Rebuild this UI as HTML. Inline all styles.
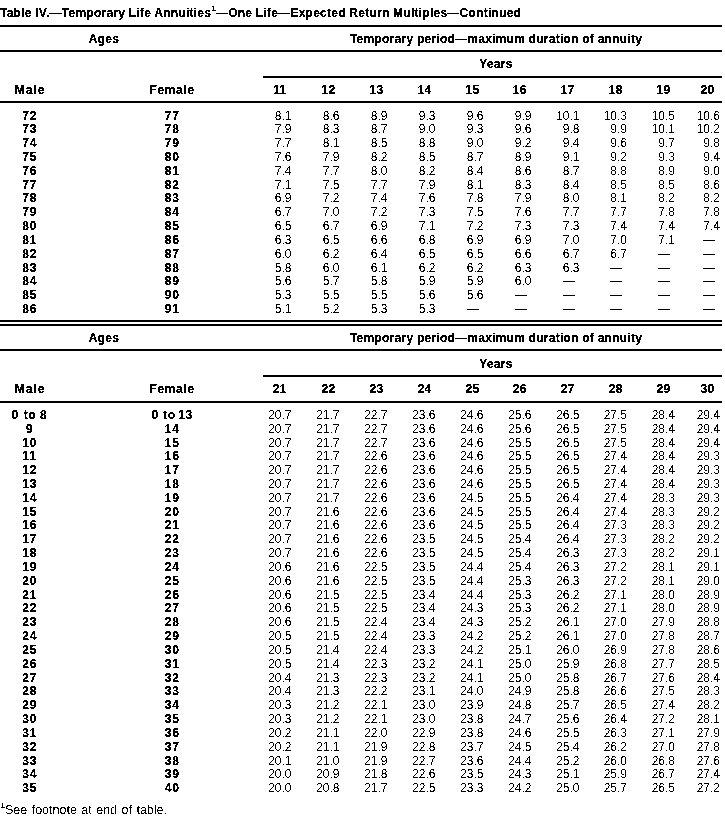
<!DOCTYPE html>
<html><head><meta charset="utf-8"><title>Table IV</title><style>
html,body{margin:0;padding:0;background:#fff;}
body{width:725px;height:822px;position:relative;overflow:hidden;font-family:"Liberation Sans",sans-serif;color:#000;}
div{position:absolute;white-space:nowrap;}
.ln{background:#000;}
.ttl{font-weight:bold;font-size:12px;line-height:12px;letter-spacing:0.25px}
.hd{font-weight:bold;font-size:12px;line-height:12px;letter-spacing:0.25px}
.ag{font-weight:bold;font-size:12px;line-height:12px;letter-spacing:0.75px}
.nm{font-size:12px;line-height:12px;letter-spacing:0px}
.fn{font-size:12.5px;line-height:12.5px;letter-spacing:0px;word-spacing:1.0px}
.c{width:400px;text-align:center}
.male{letter-spacing:1.0px}
.female{letter-spacing:0.65px}
.r{text-align:right}
.dash{width:12px;height:1px;background:#000}
sup{font-size:8px;vertical-align:6px;line-height:0}
.fn sup{font-size:8px;vertical-align:6px;font-weight:bold}
</style></head>
<body>
<svg width="0" height="0" style="position:absolute"><defs>
<filter id="thb" x="0" y="0" width="100%" height="100%"><feComponentTransfer><feFuncA type="discrete" tableValues="0 1 1"/></feComponentTransfer></filter>
<filter id="thr" x="0" y="0" width="100%" height="100%"><feComponentTransfer><feFuncA type="discrete" tableValues="0 1"/></feComponentTransfer></filter>
</defs></svg>
<div class="ln" style="left:0px;top:25px;width:722px;height:2px"></div>
<div class="ln" style="left:0px;top:50px;width:722px;height:2px"></div>
<div class="ln" style="left:263px;top:76px;width:459px;height:2px"></div>
<div class="ln" style="left:0px;top:101px;width:722px;height:2px"></div>
<div class="dash" style="left:703.00px;top:240.00px"></div>
<div class="dash" style="left:658.00px;top:254.00px"></div>
<div class="dash" style="left:703.00px;top:254.00px"></div>
<div class="dash" style="left:610.00px;top:268.00px"></div>
<div class="dash" style="left:658.00px;top:268.00px"></div>
<div class="dash" style="left:703.00px;top:268.00px"></div>
<div class="dash" style="left:562.50px;top:281.00px"></div>
<div class="dash" style="left:610.00px;top:281.00px"></div>
<div class="dash" style="left:658.00px;top:281.00px"></div>
<div class="dash" style="left:703.00px;top:281.00px"></div>
<div class="dash" style="left:514.50px;top:295.00px"></div>
<div class="dash" style="left:562.50px;top:295.00px"></div>
<div class="dash" style="left:610.00px;top:295.00px"></div>
<div class="dash" style="left:658.00px;top:295.00px"></div>
<div class="dash" style="left:703.00px;top:295.00px"></div>
<div class="dash" style="left:466.50px;top:309.00px"></div>
<div class="dash" style="left:514.50px;top:309.00px"></div>
<div class="dash" style="left:562.50px;top:309.00px"></div>
<div class="dash" style="left:610.00px;top:309.00px"></div>
<div class="dash" style="left:658.00px;top:309.00px"></div>
<div class="dash" style="left:703.00px;top:309.00px"></div>
<div class="ln" style="left:0px;top:320px;width:722px;height:2px"></div>
<div class="ln" style="left:0px;top:324px;width:722px;height:2px"></div>
<div class="ln" style="left:0px;top:349px;width:722px;height:2px"></div>
<div class="ln" style="left:263px;top:375px;width:459px;height:2px"></div>
<div class="ln" style="left:0px;top:401px;width:722px;height:2px"></div>
<section style="position:absolute;left:0;top:0;width:725px;height:822px;filter:url(#thb);">
<div class="ttl" style="left:0.00px;top:7.00px">Table IV.—Temporary Life Annuities<sup>1</sup>—One Life—Expected Return Multiples—Continued</div>
<div class="hd c" style="left:-96.00px;top:33.00px">Ages</div>
<div class="hd c" style="left:296.00px;top:33.00px">Temporary period—maximum duration of annuity</div>
<div class="hd c" style="left:296.00px;top:58.00px">Years</div>
<div class="hd male c" style="left:-170.00px;top:84.00px">Male</div>
<div class="hd female c" style="left:-27.90px;top:84.00px">Female</div>
<div class="hd c" style="left:79.70px;top:84.00px">11</div>
<div class="hd c" style="left:128.50px;top:84.00px">12</div>
<div class="hd c" style="left:176.50px;top:84.00px">13</div>
<div class="hd c" style="left:224.60px;top:84.00px">14</div>
<div class="hd c" style="left:272.40px;top:84.00px">15</div>
<div class="hd c" style="left:319.80px;top:84.00px">16</div>
<div class="hd c" style="left:367.70px;top:84.00px">17</div>
<div class="hd c" style="left:415.70px;top:84.00px">18</div>
<div class="hd c" style="left:463.50px;top:84.00px">19</div>
<div class="hd c" style="left:507.40px;top:84.00px">20</div>
<div class="ag c" style="left:-170.30px;top:110.00px">72</div>
<div class="ag c" style="left:-27.80px;top:110.00px">77</div>
<div class="ag c" style="left:-170.30px;top:123.00px">73</div>
<div class="ag c" style="left:-27.80px;top:123.00px">78</div>
<div class="ag c" style="left:-170.30px;top:137.00px">74</div>
<div class="ag c" style="left:-27.80px;top:137.00px">79</div>
<div class="ag c" style="left:-170.30px;top:151.00px">75</div>
<div class="ag c" style="left:-27.80px;top:151.00px">80</div>
<div class="ag c" style="left:-170.30px;top:165.00px">76</div>
<div class="ag c" style="left:-27.80px;top:165.00px">81</div>
<div class="ag c" style="left:-170.30px;top:179.00px">77</div>
<div class="ag c" style="left:-27.80px;top:179.00px">82</div>
<div class="ag c" style="left:-170.30px;top:192.00px">78</div>
<div class="ag c" style="left:-27.80px;top:192.00px">83</div>
<div class="ag c" style="left:-170.30px;top:206.00px">79</div>
<div class="ag c" style="left:-27.80px;top:206.00px">84</div>
<div class="ag c" style="left:-170.30px;top:220.00px">80</div>
<div class="ag c" style="left:-27.80px;top:220.00px">85</div>
<div class="ag c" style="left:-170.30px;top:234.00px">81</div>
<div class="ag c" style="left:-27.80px;top:234.00px">86</div>
<div class="ag c" style="left:-170.30px;top:248.00px">82</div>
<div class="ag c" style="left:-27.80px;top:248.00px">87</div>
<div class="ag c" style="left:-170.30px;top:262.00px">83</div>
<div class="ag c" style="left:-27.80px;top:262.00px">88</div>
<div class="ag c" style="left:-170.30px;top:275.00px">84</div>
<div class="ag c" style="left:-27.80px;top:275.00px">89</div>
<div class="ag c" style="left:-170.30px;top:289.00px">85</div>
<div class="ag c" style="left:-27.80px;top:289.00px">90</div>
<div class="ag c" style="left:-170.30px;top:303.00px">86</div>
<div class="ag c" style="left:-27.80px;top:303.00px">91</div>
<div class="hd c" style="left:-96.00px;top:332.00px">Ages</div>
<div class="hd c" style="left:296.00px;top:332.00px">Temporary period—maximum duration of annuity</div>
<div class="hd c" style="left:296.00px;top:358.00px">Years</div>
<div class="hd male c" style="left:-170.00px;top:383.00px">Male</div>
<div class="hd female c" style="left:-27.90px;top:383.00px">Female</div>
<div class="hd c" style="left:79.70px;top:383.00px">21</div>
<div class="hd c" style="left:128.50px;top:383.00px">22</div>
<div class="hd c" style="left:176.50px;top:383.00px">23</div>
<div class="hd c" style="left:224.60px;top:383.00px">24</div>
<div class="hd c" style="left:272.40px;top:383.00px">25</div>
<div class="hd c" style="left:319.80px;top:383.00px">26</div>
<div class="hd c" style="left:367.70px;top:383.00px">27</div>
<div class="hd c" style="left:415.70px;top:383.00px">28</div>
<div class="hd c" style="left:463.50px;top:383.00px">29</div>
<div class="hd c" style="left:507.40px;top:383.00px">30</div>
<div class="ag" style="left:11.50px;top:409.00px">0</div>
<div class="ag" style="left:23.80px;top:409.00px">to</div>
<div class="ag" style="left:40.00px;top:409.00px">8</div>
<div class="ag" style="left:151.50px;top:409.00px">0</div>
<div class="ag" style="left:163.00px;top:409.00px">to</div>
<div class="ag" style="left:178.00px;top:409.00px">13</div>
<div class="ag c" style="left:-170.30px;top:423.00px">9</div>
<div class="ag c" style="left:-27.80px;top:423.00px">14</div>
<div class="ag c" style="left:-170.30px;top:437.00px">10</div>
<div class="ag c" style="left:-27.80px;top:437.00px">15</div>
<div class="ag c" style="left:-170.30px;top:450.00px">11</div>
<div class="ag c" style="left:-27.80px;top:450.00px">16</div>
<div class="ag c" style="left:-170.30px;top:464.00px">12</div>
<div class="ag c" style="left:-27.80px;top:464.00px">17</div>
<div class="ag c" style="left:-170.30px;top:478.00px">13</div>
<div class="ag c" style="left:-27.80px;top:478.00px">18</div>
<div class="ag c" style="left:-170.30px;top:492.00px">14</div>
<div class="ag c" style="left:-27.80px;top:492.00px">19</div>
<div class="ag c" style="left:-170.30px;top:506.00px">15</div>
<div class="ag c" style="left:-27.80px;top:506.00px">20</div>
<div class="ag c" style="left:-170.30px;top:519.00px">16</div>
<div class="ag c" style="left:-27.80px;top:519.00px">21</div>
<div class="ag c" style="left:-170.30px;top:533.00px">17</div>
<div class="ag c" style="left:-27.80px;top:533.00px">22</div>
<div class="ag c" style="left:-170.30px;top:547.00px">18</div>
<div class="ag c" style="left:-27.80px;top:547.00px">23</div>
<div class="ag c" style="left:-170.30px;top:561.00px">19</div>
<div class="ag c" style="left:-27.80px;top:561.00px">24</div>
<div class="ag c" style="left:-170.30px;top:575.00px">20</div>
<div class="ag c" style="left:-27.80px;top:575.00px">25</div>
<div class="ag c" style="left:-170.30px;top:589.00px">21</div>
<div class="ag c" style="left:-27.80px;top:589.00px">26</div>
<div class="ag c" style="left:-170.30px;top:602.00px">22</div>
<div class="ag c" style="left:-27.80px;top:602.00px">27</div>
<div class="ag c" style="left:-170.30px;top:616.00px">23</div>
<div class="ag c" style="left:-27.80px;top:616.00px">28</div>
<div class="ag c" style="left:-170.30px;top:630.00px">24</div>
<div class="ag c" style="left:-27.80px;top:630.00px">29</div>
<div class="ag c" style="left:-170.30px;top:644.00px">25</div>
<div class="ag c" style="left:-27.80px;top:644.00px">30</div>
<div class="ag c" style="left:-170.30px;top:658.00px">26</div>
<div class="ag c" style="left:-27.80px;top:658.00px">31</div>
<div class="ag c" style="left:-170.30px;top:672.00px">27</div>
<div class="ag c" style="left:-27.80px;top:672.00px">32</div>
<div class="ag c" style="left:-170.30px;top:685.00px">28</div>
<div class="ag c" style="left:-27.80px;top:685.00px">33</div>
<div class="ag c" style="left:-170.30px;top:699.00px">29</div>
<div class="ag c" style="left:-27.80px;top:699.00px">34</div>
<div class="ag c" style="left:-170.30px;top:713.00px">30</div>
<div class="ag c" style="left:-27.80px;top:713.00px">35</div>
<div class="ag c" style="left:-170.30px;top:727.00px">31</div>
<div class="ag c" style="left:-27.80px;top:727.00px">36</div>
<div class="ag c" style="left:-170.30px;top:741.00px">32</div>
<div class="ag c" style="left:-27.80px;top:741.00px">37</div>
<div class="ag c" style="left:-170.30px;top:755.00px">33</div>
<div class="ag c" style="left:-27.80px;top:755.00px">38</div>
<div class="ag c" style="left:-170.30px;top:768.00px">34</div>
<div class="ag c" style="left:-27.80px;top:768.00px">39</div>
<div class="ag c" style="left:-170.30px;top:782.00px">35</div>
<div class="ag c" style="left:-27.80px;top:782.00px">40</div>
</section>
<section style="position:absolute;left:0;top:0;width:725px;height:822px;filter:url(#thr);">
<div class="nm r" style="right:433.50px;top:110.00px">8.1</div>
<div class="nm r" style="right:385.50px;top:110.00px">8.6</div>
<div class="nm r" style="right:337.50px;top:110.00px">8.9</div>
<div class="nm r" style="right:289.50px;top:110.00px">9.3</div>
<div class="nm r" style="right:241.50px;top:110.00px">9.6</div>
<div class="nm r" style="right:193.50px;top:110.00px">9.9</div>
<div class="nm r" style="right:145.50px;top:110.00px">10.1</div>
<div class="nm r" style="right:98.00px;top:110.00px">10.3</div>
<div class="nm r" style="right:50.00px;top:110.00px">10.5</div>
<div class="nm r" style="right:5.00px;top:110.00px">10.6</div>
<div class="nm r" style="right:433.50px;top:123.00px">7.9</div>
<div class="nm r" style="right:385.50px;top:123.00px">8.3</div>
<div class="nm r" style="right:337.50px;top:123.00px">8.7</div>
<div class="nm r" style="right:289.50px;top:123.00px">9.0</div>
<div class="nm r" style="right:241.50px;top:123.00px">9.3</div>
<div class="nm r" style="right:193.50px;top:123.00px">9.6</div>
<div class="nm r" style="right:145.50px;top:123.00px">9.8</div>
<div class="nm r" style="right:98.00px;top:123.00px">9.9</div>
<div class="nm r" style="right:50.00px;top:123.00px">10.1</div>
<div class="nm r" style="right:5.00px;top:123.00px">10.2</div>
<div class="nm r" style="right:433.50px;top:137.00px">7.7</div>
<div class="nm r" style="right:385.50px;top:137.00px">8.1</div>
<div class="nm r" style="right:337.50px;top:137.00px">8.5</div>
<div class="nm r" style="right:289.50px;top:137.00px">8.8</div>
<div class="nm r" style="right:241.50px;top:137.00px">9.0</div>
<div class="nm r" style="right:193.50px;top:137.00px">9.2</div>
<div class="nm r" style="right:145.50px;top:137.00px">9.4</div>
<div class="nm r" style="right:98.00px;top:137.00px">9.6</div>
<div class="nm r" style="right:50.00px;top:137.00px">9.7</div>
<div class="nm r" style="right:5.00px;top:137.00px">9.8</div>
<div class="nm r" style="right:433.50px;top:151.00px">7.6</div>
<div class="nm r" style="right:385.50px;top:151.00px">7.9</div>
<div class="nm r" style="right:337.50px;top:151.00px">8.2</div>
<div class="nm r" style="right:289.50px;top:151.00px">8.5</div>
<div class="nm r" style="right:241.50px;top:151.00px">8.7</div>
<div class="nm r" style="right:193.50px;top:151.00px">8.9</div>
<div class="nm r" style="right:145.50px;top:151.00px">9.1</div>
<div class="nm r" style="right:98.00px;top:151.00px">9.2</div>
<div class="nm r" style="right:50.00px;top:151.00px">9.3</div>
<div class="nm r" style="right:5.00px;top:151.00px">9.4</div>
<div class="nm r" style="right:433.50px;top:165.00px">7.4</div>
<div class="nm r" style="right:385.50px;top:165.00px">7.7</div>
<div class="nm r" style="right:337.50px;top:165.00px">8.0</div>
<div class="nm r" style="right:289.50px;top:165.00px">8.2</div>
<div class="nm r" style="right:241.50px;top:165.00px">8.4</div>
<div class="nm r" style="right:193.50px;top:165.00px">8.6</div>
<div class="nm r" style="right:145.50px;top:165.00px">8.7</div>
<div class="nm r" style="right:98.00px;top:165.00px">8.8</div>
<div class="nm r" style="right:50.00px;top:165.00px">8.9</div>
<div class="nm r" style="right:5.00px;top:165.00px">9.0</div>
<div class="nm r" style="right:433.50px;top:179.00px">7.1</div>
<div class="nm r" style="right:385.50px;top:179.00px">7.5</div>
<div class="nm r" style="right:337.50px;top:179.00px">7.7</div>
<div class="nm r" style="right:289.50px;top:179.00px">7.9</div>
<div class="nm r" style="right:241.50px;top:179.00px">8.1</div>
<div class="nm r" style="right:193.50px;top:179.00px">8.3</div>
<div class="nm r" style="right:145.50px;top:179.00px">8.4</div>
<div class="nm r" style="right:98.00px;top:179.00px">8.5</div>
<div class="nm r" style="right:50.00px;top:179.00px">8.5</div>
<div class="nm r" style="right:5.00px;top:179.00px">8.6</div>
<div class="nm r" style="right:433.50px;top:192.00px">6.9</div>
<div class="nm r" style="right:385.50px;top:192.00px">7.2</div>
<div class="nm r" style="right:337.50px;top:192.00px">7.4</div>
<div class="nm r" style="right:289.50px;top:192.00px">7.6</div>
<div class="nm r" style="right:241.50px;top:192.00px">7.8</div>
<div class="nm r" style="right:193.50px;top:192.00px">7.9</div>
<div class="nm r" style="right:145.50px;top:192.00px">8.0</div>
<div class="nm r" style="right:98.00px;top:192.00px">8.1</div>
<div class="nm r" style="right:50.00px;top:192.00px">8.2</div>
<div class="nm r" style="right:5.00px;top:192.00px">8.2</div>
<div class="nm r" style="right:433.50px;top:206.00px">6.7</div>
<div class="nm r" style="right:385.50px;top:206.00px">7.0</div>
<div class="nm r" style="right:337.50px;top:206.00px">7.2</div>
<div class="nm r" style="right:289.50px;top:206.00px">7.3</div>
<div class="nm r" style="right:241.50px;top:206.00px">7.5</div>
<div class="nm r" style="right:193.50px;top:206.00px">7.6</div>
<div class="nm r" style="right:145.50px;top:206.00px">7.7</div>
<div class="nm r" style="right:98.00px;top:206.00px">7.7</div>
<div class="nm r" style="right:50.00px;top:206.00px">7.8</div>
<div class="nm r" style="right:5.00px;top:206.00px">7.8</div>
<div class="nm r" style="right:433.50px;top:220.00px">6.5</div>
<div class="nm r" style="right:385.50px;top:220.00px">6.7</div>
<div class="nm r" style="right:337.50px;top:220.00px">6.9</div>
<div class="nm r" style="right:289.50px;top:220.00px">7.1</div>
<div class="nm r" style="right:241.50px;top:220.00px">7.2</div>
<div class="nm r" style="right:193.50px;top:220.00px">7.3</div>
<div class="nm r" style="right:145.50px;top:220.00px">7.3</div>
<div class="nm r" style="right:98.00px;top:220.00px">7.4</div>
<div class="nm r" style="right:50.00px;top:220.00px">7.4</div>
<div class="nm r" style="right:5.00px;top:220.00px">7.4</div>
<div class="nm r" style="right:433.50px;top:234.00px">6.3</div>
<div class="nm r" style="right:385.50px;top:234.00px">6.5</div>
<div class="nm r" style="right:337.50px;top:234.00px">6.6</div>
<div class="nm r" style="right:289.50px;top:234.00px">6.8</div>
<div class="nm r" style="right:241.50px;top:234.00px">6.9</div>
<div class="nm r" style="right:193.50px;top:234.00px">6.9</div>
<div class="nm r" style="right:145.50px;top:234.00px">7.0</div>
<div class="nm r" style="right:98.00px;top:234.00px">7.0</div>
<div class="nm r" style="right:50.00px;top:234.00px">7.1</div>
<div class="nm r" style="right:433.50px;top:248.00px">6.0</div>
<div class="nm r" style="right:385.50px;top:248.00px">6.2</div>
<div class="nm r" style="right:337.50px;top:248.00px">6.4</div>
<div class="nm r" style="right:289.50px;top:248.00px">6.5</div>
<div class="nm r" style="right:241.50px;top:248.00px">6.5</div>
<div class="nm r" style="right:193.50px;top:248.00px">6.6</div>
<div class="nm r" style="right:145.50px;top:248.00px">6.7</div>
<div class="nm r" style="right:98.00px;top:248.00px">6.7</div>
<div class="nm r" style="right:433.50px;top:262.00px">5.8</div>
<div class="nm r" style="right:385.50px;top:262.00px">6.0</div>
<div class="nm r" style="right:337.50px;top:262.00px">6.1</div>
<div class="nm r" style="right:289.50px;top:262.00px">6.2</div>
<div class="nm r" style="right:241.50px;top:262.00px">6.2</div>
<div class="nm r" style="right:193.50px;top:262.00px">6.3</div>
<div class="nm r" style="right:145.50px;top:262.00px">6.3</div>
<div class="nm r" style="right:433.50px;top:275.00px">5.6</div>
<div class="nm r" style="right:385.50px;top:275.00px">5.7</div>
<div class="nm r" style="right:337.50px;top:275.00px">5.8</div>
<div class="nm r" style="right:289.50px;top:275.00px">5.9</div>
<div class="nm r" style="right:241.50px;top:275.00px">5.9</div>
<div class="nm r" style="right:193.50px;top:275.00px">6.0</div>
<div class="nm r" style="right:433.50px;top:289.00px">5.3</div>
<div class="nm r" style="right:385.50px;top:289.00px">5.5</div>
<div class="nm r" style="right:337.50px;top:289.00px">5.5</div>
<div class="nm r" style="right:289.50px;top:289.00px">5.6</div>
<div class="nm r" style="right:241.50px;top:289.00px">5.6</div>
<div class="nm r" style="right:433.50px;top:303.00px">5.1</div>
<div class="nm r" style="right:385.50px;top:303.00px">5.2</div>
<div class="nm r" style="right:337.50px;top:303.00px">5.3</div>
<div class="nm r" style="right:289.50px;top:303.00px">5.3</div>
<div class="nm r" style="right:433.50px;top:409.00px">20.7</div>
<div class="nm r" style="right:385.50px;top:409.00px">21.7</div>
<div class="nm r" style="right:337.50px;top:409.00px">22.7</div>
<div class="nm r" style="right:289.50px;top:409.00px">23.6</div>
<div class="nm r" style="right:241.50px;top:409.00px">24.6</div>
<div class="nm r" style="right:193.50px;top:409.00px">25.6</div>
<div class="nm r" style="right:145.50px;top:409.00px">26.5</div>
<div class="nm r" style="right:98.00px;top:409.00px">27.5</div>
<div class="nm r" style="right:50.00px;top:409.00px">28.4</div>
<div class="nm r" style="right:5.00px;top:409.00px">29.4</div>
<div class="nm r" style="right:433.50px;top:423.00px">20.7</div>
<div class="nm r" style="right:385.50px;top:423.00px">21.7</div>
<div class="nm r" style="right:337.50px;top:423.00px">22.7</div>
<div class="nm r" style="right:289.50px;top:423.00px">23.6</div>
<div class="nm r" style="right:241.50px;top:423.00px">24.6</div>
<div class="nm r" style="right:193.50px;top:423.00px">25.6</div>
<div class="nm r" style="right:145.50px;top:423.00px">26.5</div>
<div class="nm r" style="right:98.00px;top:423.00px">27.5</div>
<div class="nm r" style="right:50.00px;top:423.00px">28.4</div>
<div class="nm r" style="right:5.00px;top:423.00px">29.4</div>
<div class="nm r" style="right:433.50px;top:437.00px">20.7</div>
<div class="nm r" style="right:385.50px;top:437.00px">21.7</div>
<div class="nm r" style="right:337.50px;top:437.00px">22.7</div>
<div class="nm r" style="right:289.50px;top:437.00px">23.6</div>
<div class="nm r" style="right:241.50px;top:437.00px">24.6</div>
<div class="nm r" style="right:193.50px;top:437.00px">25.5</div>
<div class="nm r" style="right:145.50px;top:437.00px">26.5</div>
<div class="nm r" style="right:98.00px;top:437.00px">27.5</div>
<div class="nm r" style="right:50.00px;top:437.00px">28.4</div>
<div class="nm r" style="right:5.00px;top:437.00px">29.4</div>
<div class="nm r" style="right:433.50px;top:450.00px">20.7</div>
<div class="nm r" style="right:385.50px;top:450.00px">21.7</div>
<div class="nm r" style="right:337.50px;top:450.00px">22.6</div>
<div class="nm r" style="right:289.50px;top:450.00px">23.6</div>
<div class="nm r" style="right:241.50px;top:450.00px">24.6</div>
<div class="nm r" style="right:193.50px;top:450.00px">25.5</div>
<div class="nm r" style="right:145.50px;top:450.00px">26.5</div>
<div class="nm r" style="right:98.00px;top:450.00px">27.4</div>
<div class="nm r" style="right:50.00px;top:450.00px">28.4</div>
<div class="nm r" style="right:5.00px;top:450.00px">29.3</div>
<div class="nm r" style="right:433.50px;top:464.00px">20.7</div>
<div class="nm r" style="right:385.50px;top:464.00px">21.7</div>
<div class="nm r" style="right:337.50px;top:464.00px">22.6</div>
<div class="nm r" style="right:289.50px;top:464.00px">23.6</div>
<div class="nm r" style="right:241.50px;top:464.00px">24.6</div>
<div class="nm r" style="right:193.50px;top:464.00px">25.5</div>
<div class="nm r" style="right:145.50px;top:464.00px">26.5</div>
<div class="nm r" style="right:98.00px;top:464.00px">27.4</div>
<div class="nm r" style="right:50.00px;top:464.00px">28.4</div>
<div class="nm r" style="right:5.00px;top:464.00px">29.3</div>
<div class="nm r" style="right:433.50px;top:478.00px">20.7</div>
<div class="nm r" style="right:385.50px;top:478.00px">21.7</div>
<div class="nm r" style="right:337.50px;top:478.00px">22.6</div>
<div class="nm r" style="right:289.50px;top:478.00px">23.6</div>
<div class="nm r" style="right:241.50px;top:478.00px">24.6</div>
<div class="nm r" style="right:193.50px;top:478.00px">25.5</div>
<div class="nm r" style="right:145.50px;top:478.00px">26.5</div>
<div class="nm r" style="right:98.00px;top:478.00px">27.4</div>
<div class="nm r" style="right:50.00px;top:478.00px">28.4</div>
<div class="nm r" style="right:5.00px;top:478.00px">29.3</div>
<div class="nm r" style="right:433.50px;top:492.00px">20.7</div>
<div class="nm r" style="right:385.50px;top:492.00px">21.7</div>
<div class="nm r" style="right:337.50px;top:492.00px">22.6</div>
<div class="nm r" style="right:289.50px;top:492.00px">23.6</div>
<div class="nm r" style="right:241.50px;top:492.00px">24.5</div>
<div class="nm r" style="right:193.50px;top:492.00px">25.5</div>
<div class="nm r" style="right:145.50px;top:492.00px">26.4</div>
<div class="nm r" style="right:98.00px;top:492.00px">27.4</div>
<div class="nm r" style="right:50.00px;top:492.00px">28.3</div>
<div class="nm r" style="right:5.00px;top:492.00px">29.3</div>
<div class="nm r" style="right:433.50px;top:506.00px">20.7</div>
<div class="nm r" style="right:385.50px;top:506.00px">21.6</div>
<div class="nm r" style="right:337.50px;top:506.00px">22.6</div>
<div class="nm r" style="right:289.50px;top:506.00px">23.6</div>
<div class="nm r" style="right:241.50px;top:506.00px">24.5</div>
<div class="nm r" style="right:193.50px;top:506.00px">25.5</div>
<div class="nm r" style="right:145.50px;top:506.00px">26.4</div>
<div class="nm r" style="right:98.00px;top:506.00px">27.4</div>
<div class="nm r" style="right:50.00px;top:506.00px">28.3</div>
<div class="nm r" style="right:5.00px;top:506.00px">29.2</div>
<div class="nm r" style="right:433.50px;top:519.00px">20.7</div>
<div class="nm r" style="right:385.50px;top:519.00px">21.6</div>
<div class="nm r" style="right:337.50px;top:519.00px">22.6</div>
<div class="nm r" style="right:289.50px;top:519.00px">23.6</div>
<div class="nm r" style="right:241.50px;top:519.00px">24.5</div>
<div class="nm r" style="right:193.50px;top:519.00px">25.5</div>
<div class="nm r" style="right:145.50px;top:519.00px">26.4</div>
<div class="nm r" style="right:98.00px;top:519.00px">27.3</div>
<div class="nm r" style="right:50.00px;top:519.00px">28.3</div>
<div class="nm r" style="right:5.00px;top:519.00px">29.2</div>
<div class="nm r" style="right:433.50px;top:533.00px">20.7</div>
<div class="nm r" style="right:385.50px;top:533.00px">21.6</div>
<div class="nm r" style="right:337.50px;top:533.00px">22.6</div>
<div class="nm r" style="right:289.50px;top:533.00px">23.5</div>
<div class="nm r" style="right:241.50px;top:533.00px">24.5</div>
<div class="nm r" style="right:193.50px;top:533.00px">25.4</div>
<div class="nm r" style="right:145.50px;top:533.00px">26.4</div>
<div class="nm r" style="right:98.00px;top:533.00px">27.3</div>
<div class="nm r" style="right:50.00px;top:533.00px">28.2</div>
<div class="nm r" style="right:5.00px;top:533.00px">29.2</div>
<div class="nm r" style="right:433.50px;top:547.00px">20.7</div>
<div class="nm r" style="right:385.50px;top:547.00px">21.6</div>
<div class="nm r" style="right:337.50px;top:547.00px">22.6</div>
<div class="nm r" style="right:289.50px;top:547.00px">23.5</div>
<div class="nm r" style="right:241.50px;top:547.00px">24.5</div>
<div class="nm r" style="right:193.50px;top:547.00px">25.4</div>
<div class="nm r" style="right:145.50px;top:547.00px">26.3</div>
<div class="nm r" style="right:98.00px;top:547.00px">27.3</div>
<div class="nm r" style="right:50.00px;top:547.00px">28.2</div>
<div class="nm r" style="right:5.00px;top:547.00px">29.1</div>
<div class="nm r" style="right:433.50px;top:561.00px">20.6</div>
<div class="nm r" style="right:385.50px;top:561.00px">21.6</div>
<div class="nm r" style="right:337.50px;top:561.00px">22.5</div>
<div class="nm r" style="right:289.50px;top:561.00px">23.5</div>
<div class="nm r" style="right:241.50px;top:561.00px">24.4</div>
<div class="nm r" style="right:193.50px;top:561.00px">25.4</div>
<div class="nm r" style="right:145.50px;top:561.00px">26.3</div>
<div class="nm r" style="right:98.00px;top:561.00px">27.2</div>
<div class="nm r" style="right:50.00px;top:561.00px">28.1</div>
<div class="nm r" style="right:5.00px;top:561.00px">29.1</div>
<div class="nm r" style="right:433.50px;top:575.00px">20.6</div>
<div class="nm r" style="right:385.50px;top:575.00px">21.6</div>
<div class="nm r" style="right:337.50px;top:575.00px">22.5</div>
<div class="nm r" style="right:289.50px;top:575.00px">23.5</div>
<div class="nm r" style="right:241.50px;top:575.00px">24.4</div>
<div class="nm r" style="right:193.50px;top:575.00px">25.3</div>
<div class="nm r" style="right:145.50px;top:575.00px">26.3</div>
<div class="nm r" style="right:98.00px;top:575.00px">27.2</div>
<div class="nm r" style="right:50.00px;top:575.00px">28.1</div>
<div class="nm r" style="right:5.00px;top:575.00px">29.0</div>
<div class="nm r" style="right:433.50px;top:589.00px">20.6</div>
<div class="nm r" style="right:385.50px;top:589.00px">21.5</div>
<div class="nm r" style="right:337.50px;top:589.00px">22.5</div>
<div class="nm r" style="right:289.50px;top:589.00px">23.4</div>
<div class="nm r" style="right:241.50px;top:589.00px">24.4</div>
<div class="nm r" style="right:193.50px;top:589.00px">25.3</div>
<div class="nm r" style="right:145.50px;top:589.00px">26.2</div>
<div class="nm r" style="right:98.00px;top:589.00px">27.1</div>
<div class="nm r" style="right:50.00px;top:589.00px">28.0</div>
<div class="nm r" style="right:5.00px;top:589.00px">28.9</div>
<div class="nm r" style="right:433.50px;top:602.00px">20.6</div>
<div class="nm r" style="right:385.50px;top:602.00px">21.5</div>
<div class="nm r" style="right:337.50px;top:602.00px">22.5</div>
<div class="nm r" style="right:289.50px;top:602.00px">23.4</div>
<div class="nm r" style="right:241.50px;top:602.00px">24.3</div>
<div class="nm r" style="right:193.50px;top:602.00px">25.3</div>
<div class="nm r" style="right:145.50px;top:602.00px">26.2</div>
<div class="nm r" style="right:98.00px;top:602.00px">27.1</div>
<div class="nm r" style="right:50.00px;top:602.00px">28.0</div>
<div class="nm r" style="right:5.00px;top:602.00px">28.9</div>
<div class="nm r" style="right:433.50px;top:616.00px">20.6</div>
<div class="nm r" style="right:385.50px;top:616.00px">21.5</div>
<div class="nm r" style="right:337.50px;top:616.00px">22.4</div>
<div class="nm r" style="right:289.50px;top:616.00px">23.4</div>
<div class="nm r" style="right:241.50px;top:616.00px">24.3</div>
<div class="nm r" style="right:193.50px;top:616.00px">25.2</div>
<div class="nm r" style="right:145.50px;top:616.00px">26.1</div>
<div class="nm r" style="right:98.00px;top:616.00px">27.0</div>
<div class="nm r" style="right:50.00px;top:616.00px">27.9</div>
<div class="nm r" style="right:5.00px;top:616.00px">28.8</div>
<div class="nm r" style="right:433.50px;top:630.00px">20.5</div>
<div class="nm r" style="right:385.50px;top:630.00px">21.5</div>
<div class="nm r" style="right:337.50px;top:630.00px">22.4</div>
<div class="nm r" style="right:289.50px;top:630.00px">23.3</div>
<div class="nm r" style="right:241.50px;top:630.00px">24.2</div>
<div class="nm r" style="right:193.50px;top:630.00px">25.2</div>
<div class="nm r" style="right:145.50px;top:630.00px">26.1</div>
<div class="nm r" style="right:98.00px;top:630.00px">27.0</div>
<div class="nm r" style="right:50.00px;top:630.00px">27.8</div>
<div class="nm r" style="right:5.00px;top:630.00px">28.7</div>
<div class="nm r" style="right:433.50px;top:644.00px">20.5</div>
<div class="nm r" style="right:385.50px;top:644.00px">21.4</div>
<div class="nm r" style="right:337.50px;top:644.00px">22.4</div>
<div class="nm r" style="right:289.50px;top:644.00px">23.3</div>
<div class="nm r" style="right:241.50px;top:644.00px">24.2</div>
<div class="nm r" style="right:193.50px;top:644.00px">25.1</div>
<div class="nm r" style="right:145.50px;top:644.00px">26.0</div>
<div class="nm r" style="right:98.00px;top:644.00px">26.9</div>
<div class="nm r" style="right:50.00px;top:644.00px">27.8</div>
<div class="nm r" style="right:5.00px;top:644.00px">28.6</div>
<div class="nm r" style="right:433.50px;top:658.00px">20.5</div>
<div class="nm r" style="right:385.50px;top:658.00px">21.4</div>
<div class="nm r" style="right:337.50px;top:658.00px">22.3</div>
<div class="nm r" style="right:289.50px;top:658.00px">23.2</div>
<div class="nm r" style="right:241.50px;top:658.00px">24.1</div>
<div class="nm r" style="right:193.50px;top:658.00px">25.0</div>
<div class="nm r" style="right:145.50px;top:658.00px">25.9</div>
<div class="nm r" style="right:98.00px;top:658.00px">26.8</div>
<div class="nm r" style="right:50.00px;top:658.00px">27.7</div>
<div class="nm r" style="right:5.00px;top:658.00px">28.5</div>
<div class="nm r" style="right:433.50px;top:672.00px">20.4</div>
<div class="nm r" style="right:385.50px;top:672.00px">21.3</div>
<div class="nm r" style="right:337.50px;top:672.00px">22.3</div>
<div class="nm r" style="right:289.50px;top:672.00px">23.2</div>
<div class="nm r" style="right:241.50px;top:672.00px">24.1</div>
<div class="nm r" style="right:193.50px;top:672.00px">25.0</div>
<div class="nm r" style="right:145.50px;top:672.00px">25.8</div>
<div class="nm r" style="right:98.00px;top:672.00px">26.7</div>
<div class="nm r" style="right:50.00px;top:672.00px">27.6</div>
<div class="nm r" style="right:5.00px;top:672.00px">28.4</div>
<div class="nm r" style="right:433.50px;top:685.00px">20.4</div>
<div class="nm r" style="right:385.50px;top:685.00px">21.3</div>
<div class="nm r" style="right:337.50px;top:685.00px">22.2</div>
<div class="nm r" style="right:289.50px;top:685.00px">23.1</div>
<div class="nm r" style="right:241.50px;top:685.00px">24.0</div>
<div class="nm r" style="right:193.50px;top:685.00px">24.9</div>
<div class="nm r" style="right:145.50px;top:685.00px">25.8</div>
<div class="nm r" style="right:98.00px;top:685.00px">26.6</div>
<div class="nm r" style="right:50.00px;top:685.00px">27.5</div>
<div class="nm r" style="right:5.00px;top:685.00px">28.3</div>
<div class="nm r" style="right:433.50px;top:699.00px">20.3</div>
<div class="nm r" style="right:385.50px;top:699.00px">21.2</div>
<div class="nm r" style="right:337.50px;top:699.00px">22.1</div>
<div class="nm r" style="right:289.50px;top:699.00px">23.0</div>
<div class="nm r" style="right:241.50px;top:699.00px">23.9</div>
<div class="nm r" style="right:193.50px;top:699.00px">24.8</div>
<div class="nm r" style="right:145.50px;top:699.00px">25.7</div>
<div class="nm r" style="right:98.00px;top:699.00px">26.5</div>
<div class="nm r" style="right:50.00px;top:699.00px">27.4</div>
<div class="nm r" style="right:5.00px;top:699.00px">28.2</div>
<div class="nm r" style="right:433.50px;top:713.00px">20.3</div>
<div class="nm r" style="right:385.50px;top:713.00px">21.2</div>
<div class="nm r" style="right:337.50px;top:713.00px">22.1</div>
<div class="nm r" style="right:289.50px;top:713.00px">23.0</div>
<div class="nm r" style="right:241.50px;top:713.00px">23.8</div>
<div class="nm r" style="right:193.50px;top:713.00px">24.7</div>
<div class="nm r" style="right:145.50px;top:713.00px">25.6</div>
<div class="nm r" style="right:98.00px;top:713.00px">26.4</div>
<div class="nm r" style="right:50.00px;top:713.00px">27.2</div>
<div class="nm r" style="right:5.00px;top:713.00px">28.1</div>
<div class="nm r" style="right:433.50px;top:727.00px">20.2</div>
<div class="nm r" style="right:385.50px;top:727.00px">21.1</div>
<div class="nm r" style="right:337.50px;top:727.00px">22.0</div>
<div class="nm r" style="right:289.50px;top:727.00px">22.9</div>
<div class="nm r" style="right:241.50px;top:727.00px">23.8</div>
<div class="nm r" style="right:193.50px;top:727.00px">24.6</div>
<div class="nm r" style="right:145.50px;top:727.00px">25.5</div>
<div class="nm r" style="right:98.00px;top:727.00px">26.3</div>
<div class="nm r" style="right:50.00px;top:727.00px">27.1</div>
<div class="nm r" style="right:5.00px;top:727.00px">27.9</div>
<div class="nm r" style="right:433.50px;top:741.00px">20.2</div>
<div class="nm r" style="right:385.50px;top:741.00px">21.1</div>
<div class="nm r" style="right:337.50px;top:741.00px">21.9</div>
<div class="nm r" style="right:289.50px;top:741.00px">22.8</div>
<div class="nm r" style="right:241.50px;top:741.00px">23.7</div>
<div class="nm r" style="right:193.50px;top:741.00px">24.5</div>
<div class="nm r" style="right:145.50px;top:741.00px">25.4</div>
<div class="nm r" style="right:98.00px;top:741.00px">26.2</div>
<div class="nm r" style="right:50.00px;top:741.00px">27.0</div>
<div class="nm r" style="right:5.00px;top:741.00px">27.8</div>
<div class="nm r" style="right:433.50px;top:755.00px">20.1</div>
<div class="nm r" style="right:385.50px;top:755.00px">21.0</div>
<div class="nm r" style="right:337.50px;top:755.00px">21.9</div>
<div class="nm r" style="right:289.50px;top:755.00px">22.7</div>
<div class="nm r" style="right:241.50px;top:755.00px">23.6</div>
<div class="nm r" style="right:193.50px;top:755.00px">24.4</div>
<div class="nm r" style="right:145.50px;top:755.00px">25.2</div>
<div class="nm r" style="right:98.00px;top:755.00px">26.0</div>
<div class="nm r" style="right:50.00px;top:755.00px">26.8</div>
<div class="nm r" style="right:5.00px;top:755.00px">27.6</div>
<div class="nm r" style="right:433.50px;top:768.00px">20.0</div>
<div class="nm r" style="right:385.50px;top:768.00px">20.9</div>
<div class="nm r" style="right:337.50px;top:768.00px">21.8</div>
<div class="nm r" style="right:289.50px;top:768.00px">22.6</div>
<div class="nm r" style="right:241.50px;top:768.00px">23.5</div>
<div class="nm r" style="right:193.50px;top:768.00px">24.3</div>
<div class="nm r" style="right:145.50px;top:768.00px">25.1</div>
<div class="nm r" style="right:98.00px;top:768.00px">25.9</div>
<div class="nm r" style="right:50.00px;top:768.00px">26.7</div>
<div class="nm r" style="right:5.00px;top:768.00px">27.4</div>
<div class="nm r" style="right:433.50px;top:782.00px">20.0</div>
<div class="nm r" style="right:385.50px;top:782.00px">20.8</div>
<div class="nm r" style="right:337.50px;top:782.00px">21.7</div>
<div class="nm r" style="right:289.50px;top:782.00px">22.5</div>
<div class="nm r" style="right:241.50px;top:782.00px">23.3</div>
<div class="nm r" style="right:193.50px;top:782.00px">24.2</div>
<div class="nm r" style="right:145.50px;top:782.00px">25.0</div>
<div class="nm r" style="right:98.00px;top:782.00px">25.7</div>
<div class="nm r" style="right:50.00px;top:782.00px">26.5</div>
<div class="nm r" style="right:5.00px;top:782.00px">27.2</div>
<div class="fn" style="left:0.50px;top:804.00px"><sup>1</sup>See footnote at end of table.</div>
</section>
</body></html>
